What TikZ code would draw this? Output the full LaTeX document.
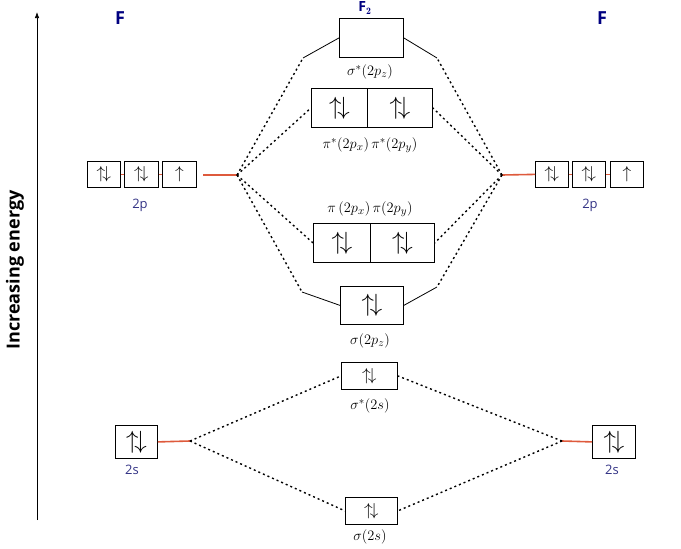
\documentclass[tikz,border=0pt]{standalone}
\usepackage{fontspec}
\setsansfont{Open Sans}
\usetikzlibrary{arrows.meta}
\begin{document}
\begin{tikzpicture}[x=1pt,y=-1pt,
  orb/.style={draw,line width=0.8pt,inner sep=0pt,anchor=north west},
  dot/.style={line width=1.4pt,dash pattern=on 2pt off 3pt},
  sol/.style={line width=0.8pt},
  red/.style={draw={rgb,255:red,222;green,90;blue,60},line width=1.6pt},
  lbl/.style={font=\sffamily\fontsize{13}{15}\selectfont,text=blue!40!black!80},
  mlb/.style={font=\fontsize{15}{18}\selectfont},
  ttl/.style={font=\sffamily\bfseries\fontsize{18}{20}\selectfont,text=blue!50!black}]
\useasboundingbox (0,0) rectangle (681,549);
\def\ud{\fontsize{26}{28}\selectfont$\uparrow\!\downarrow$}
\def\us{\fontsize{19}{21}\selectfont$\uparrow\!\downarrow$}
% axis
\draw[-{Latex[length=6pt]},line width=0.7pt] (37,520) coordinate (ax0) -- (37,12) coordinate (ax1);
\node[rotate=90,font=\sffamily\bfseries\fontsize{18}{20}\selectfont] (ie) at (15,270) {Increasing energy};
\node[ttl] (FL) at (120,18) {F};
\node[ttl] (FR) at (602,18) {F};
\node[font=\sffamily\bfseries\fontsize{14}{16}\selectfont,text=blue!50!black] (F2) at (365,8) {F$_\mathbf{2}$};
% MO boxes
\node[orb,minimum width=64,minimum height=39] (ss) at (339,18) {};
\node[mlb] at (370,72) (ssl) {$\sigma^*(2p_z)$};
\node[orb,minimum width=56,minimum height=39] (ps1) at (311,88) {\ud};
\node[orb,minimum width=65,minimum height=39] (ps2) at (367,88) {\ud};
\node[mlb] at (370,145) (psl) {$\pi^*(2p_x)\,\pi^*(2p_y)$};
\node[mlb] at (370,209) (pl) {$\pi\,(2p_x)\,\pi(2p_y)$};
\node[orb,minimum width=57,minimum height=39] (p1) at (313,223) {\ud};
\node[orb,minimum width=64,minimum height=39] (p2) at (370,223) {\ud};
\node[orb,minimum width=63,minimum height=38] (sz) at (340,286) {\ud};
\node[mlb] at (370,341) (szl) {$\sigma(2p_z)$};
\node[orb,minimum width=56,minimum height=27] (s2s) at (341,362) {\us};
\node[mlb] at (370,406) (s2sl) {$\sigma^*(2s)$};
\node[orb,minimum width=52,minimum height=27] (b2s) at (345,497) {\us};
\node[mlb] at (370,537) (b2sl) {$\sigma(2s)$};
% left atom
\node[orb,minimum width=33,minimum height=26] (l1) at (87,161) {\us};
\node[orb,minimum width=34,minimum height=26] (l2) at (124,161) {\us};
\node[orb,minimum width=34,minimum height=26] (l3) at (162,161) {\fontsize{19}{21}\selectfont$\uparrow$};
\draw[red,line width=0.8pt] (l1.east) -- (l2.west) (l2.east) -- (l3.west);
\node[lbl] (l2pl) at (140,205) {2p};
\coordinate (jl) at (237,175);
\draw[red] (203,175) coordinate (rl) -- (jl);
\node[orb,minimum width=42,minimum height=33] (ls) at (115,425) {\ud};
\node[lbl] (lsl) at (132,470) {2s};
\coordinate (jls) at (190,441);
\draw[red] (ls.east) -- (jls);
% right atom
\node[orb,minimum width=33,minimum height=26] (r1) at (535,161) {\us};
\node[orb,minimum width=33,minimum height=26] (r2) at (572,161) {\us};
\node[orb,minimum width=33,minimum height=26] (r3) at (610,161) {\fontsize{19}{21}\selectfont$\uparrow$};
\draw[red,line width=0.8pt] (r1.east) -- (r2.west) (r2.east) -- (r3.west);
\node[lbl] (r2pl) at (590,205) {2p};
\coordinate (jr) at (502,175);
\draw[red] (jr) -- (r1.west);
\node[orb,minimum width=43,minimum height=33] (rs) at (592,425) {\ud};
\node[lbl] (rsl) at (612,470) {2s};
\coordinate (jrs) at (562,441);
\draw[red] (jrs) -- (rs.west);
% connectors 2p
\draw[dot] (jl) -- (303,58) coordinate (a1); \draw[sol] (a1) -- (ss.west);
\draw[dot] (jr) -- (437,58) coordinate (a2); \draw[sol] (a2) -- (ss.east);
\draw[dot] (jl) -- (ps1.west);
\draw[dot] (jr) -- (ps2.east);
\draw[dot] (jl) -- (p1.west);
\draw[dot] (jr) -- (p2.east);
\draw[dot] (jl) -- (302,292) coordinate (a3); \draw[sol] (a3) -- (sz.west);
\draw[dot] (jr) -- (437,287) coordinate (a4); \draw[sol] (a4) -- (sz.east);
% connectors 2s
\draw[dot] (jls) -- (s2s.west);
\draw[dot] (jls) -- (b2s.west);
\draw[dot] (jrs) -- (s2s.east);
\draw[dot] (jrs) -- (b2s.east);
\end{tikzpicture}
\end{document}
